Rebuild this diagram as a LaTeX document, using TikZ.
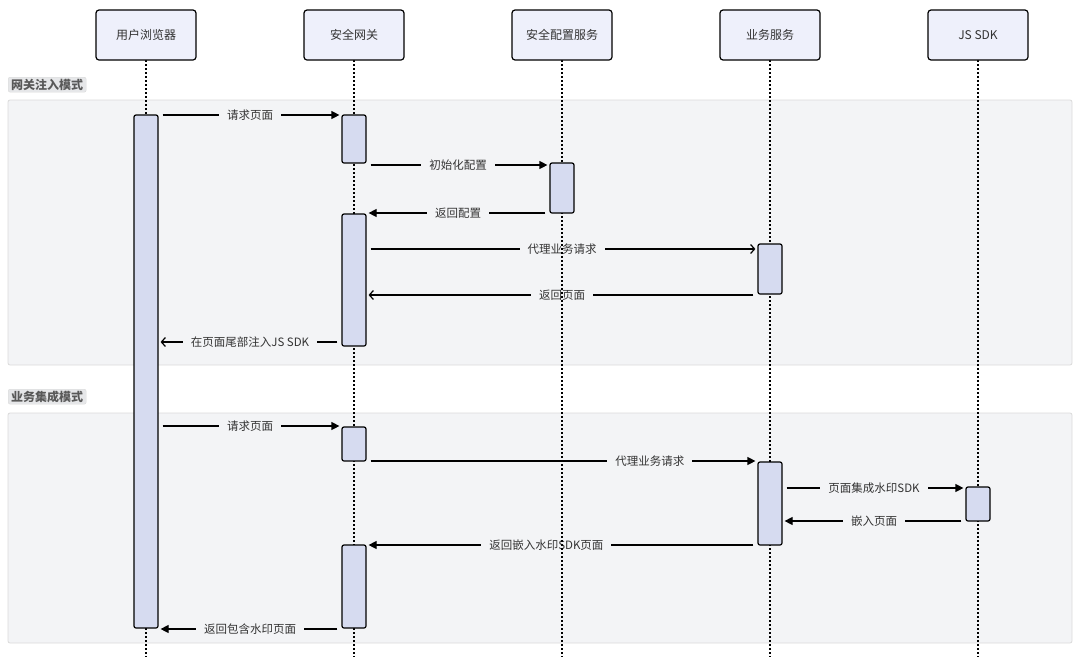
\documentclass[tikz,border=0pt]{standalone}
\usepackage{fontspec}
\setmainfont{Noto Sans CJK SC}
\usetikzlibrary{arrows.meta,positioning}

\definecolor{headfill}{HTML}{EEF0FB}
\definecolor{actfill}{HTML}{D6DBF0}
\definecolor{grpfill}{HTML}{F3F4F6}
\definecolor{grpline}{HTML}{DADADA}
\definecolor{tagfill}{HTML}{E6E7E9}
\definecolor{txt}{HTML}{333333}

\pgfdeclarelayer{back}
\pgfdeclarelayer{mid}
\pgfdeclarelayer{life}
\pgfsetlayers{back,mid,life,main}

\tikzset{
  head/.style={draw, line width=1.2pt, rounded corners=3pt, fill=headfill, outer sep=0pt,
    minimum width=100pt, minimum height=50pt, text=txt, font=\fontsize{12}{13}\selectfont},
  act/.style={draw, line width=1.2pt, rounded corners=2pt, fill=actfill,
    minimum width=24pt, inner sep=0pt},
  lifeline/.style={line width=1.5pt, dash pattern=on 2pt off 2pt},
  grp/.style={draw=grpline, fill=grpfill, rounded corners=2pt, line width=0.8pt},
  tag/.style={draw=grpline, fill=tagfill, rounded corners=2pt, inner xsep=3pt, inner ysep=0pt,
    minimum height=15pt, anchor=north west, text=black!65, font=\bfseries\fontsize{12}{13}\selectfont},
  sync/.style={line width=1.2pt, -{Triangle[length=8pt,width=8pt]}, shorten <=4pt, shorten >=2pt},
  async/.style={line width=1.2pt, -{Straight Barb[length=4pt,width=9pt]}, shorten <=4pt, shorten >=2pt},
  lbl/.style={fill=grpfill, text=txt, inner xsep=8pt, inner ysep=1pt, font=\fontsize{11.5}{12}\selectfont}
}

\begin{document}
\begin{tikzpicture}[x=1pt, y=-1pt]
  \useasboundingbox (0,0) rectangle (1080,665);

  % participants
  \node[head] (user) at (146,35) {用户浏览器};
  \node[head, right=108pt of user] (gw) {安全网关};
  \node[head, right=108pt of gw] (cfg) {安全配置服务};
  \node[head, right=108pt of cfg] (biz) {业务服务};
  \node[head, right=108pt of biz] (sdk) {JS SDK};

  \begin{pgfonlayer}{life}
    \foreach \p in {user,gw,cfg,biz,sdk}
    {
      \draw[lifeline] (\p.south) -- (\p.south |- 0,657);
    }
  \end{pgfonlayer}

  % groups
  \begin{pgfonlayer}{back}
    \draw[grp] (8,100) rectangle (1072,365);
    \draw[grp] (8,413) rectangle (1072,643);
  \end{pgfonlayer}
  \node[tag] (t1) at (8,77) {网关注入模式};
  \node[tag] (t2) at (8,389) {业务集成模式};

  % activations
  \node[act, minimum height=513pt] (b1) at (user |- 0,371.5) {};
  \node[act, minimum height=48pt] (g1) at (gw |- 0,139) {};
  \node[act, minimum height=50pt] (c1) at (cfg |- 0,188) {};
  \node[act, minimum height=132pt] (g2) at (gw |- 0,280) {};
  \node[act, minimum height=50pt] (z1) at (biz |- 0,269) {};
  \node[act, minimum height=34pt] (g3) at (gw |- 0,444) {};
  \node[act, minimum height=83pt] (z2) at (biz |- 0,503.5) {};
  \node[act, minimum height=34pt] (s1) at (sdk |- 0,504) {};
  \node[act, minimum height=83pt] (g4) at (gw |- 0,586.5) {};

  % messages
  \begin{pgfonlayer}{mid}
    % gateway injection
    \draw[sync] (b1.east |- 0,115) -- (g1.west |- 0,115) node[lbl, midway] {请求页面};
    \draw[sync] (g1.east |- 0,165) -- (c1.west |- 0,165) node[lbl, midway] {初始化配置};
    \draw[sync] (c1.west |- 0,213) -- (g2.east |- 0,213) node[lbl, midway] {返回配置};
    \draw[async] (g2.east |- 0,249) -- (z1.west |- 0,249) node[lbl, midway] {代理业务请求};
    \draw[async] (z1.west |- 0,295) -- (g2.east |- 0,295) node[lbl, midway] {返回页面};
    \draw[async] (g2.west |- 0,342) -- (b1.east |- 0,342) node[lbl, midway] {在页面尾部注入JS SDK};
    % business integration
    \draw[sync] (b1.east |- 0,426) -- (g3.west |- 0,426) node[lbl, midway] {请求页面};
    \draw[sync] (g3.east |- 0,461) -- (z2.west |- 0,461) node[lbl, pos=0.725] {代理业务请求};
    \draw[sync] (z2.east |- 0,488) -- (s1.west |- 0,488) node[lbl, midway] {页面集成水印SDK};
    \draw[sync] (s1.west |- 0,521) -- (z2.east |- 0,521) node[lbl, midway] {嵌入页面};
    \draw[sync] (z2.west |- 0,545) -- (g4.east |- 0,545) node[lbl, pos=0.54] {返回嵌入水印SDK页面};
    \draw[sync] (g4.west |- 0,629) -- (b1.east |- 0,629) node[lbl, midway] {返回包含水印页面};
  \end{pgfonlayer}
\end{tikzpicture}
\end{document}
